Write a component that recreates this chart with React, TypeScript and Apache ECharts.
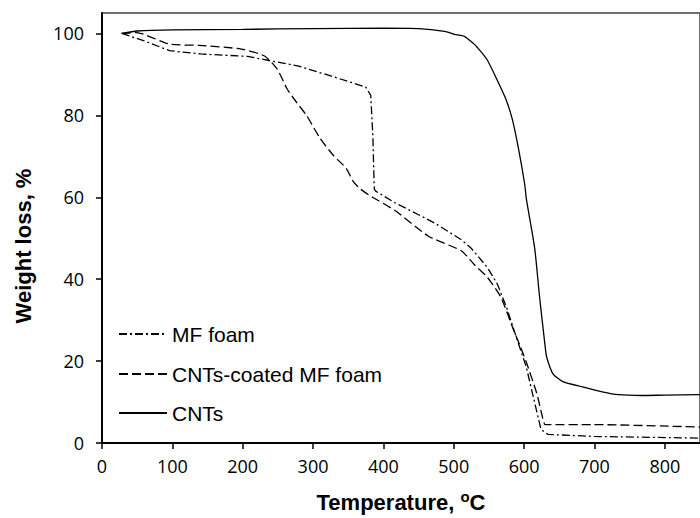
import React, { useEffect, useRef } from "react";
import * as echarts from "echarts";

// Temperature (°C) / weight (%) readings for each curve
const mfTemp = [28, 60, 96, 140, 207, 240, 278, 324, 375, 382, 385, 387, 389, 417, 431, 473, 511, 524, 534, 548, 562, 575, 589, 603, 624, 634, 700, 850];
const mfWeight = [100, 98.2, 95.8, 95.0, 94.4, 93.3, 92.1, 89.7, 86.9, 84.9, 75.0, 62.0, 61.5, 58.6, 57.4, 53.7, 49.6, 47.7, 45.7, 42.8, 38.8, 33.1, 25.8, 18.6, 3.3, 2.1, 1.6, 1.2];

const coatedTemp = [28, 49, 96, 138, 198, 231, 249, 263, 273, 291, 310, 329, 347, 357, 366, 380, 417, 464, 511, 529, 548, 567, 585, 595, 603, 618, 627, 630, 697, 850];
const coatedWeight = [100, 100.2, 97.4, 97.1, 96.2, 94.5, 91.3, 86.5, 84.0, 79.9, 74.4, 70.2, 67.1, 63.9, 62.2, 60.5, 56.7, 50.5, 46.9, 43.6, 40.4, 35.6, 27.6, 23.4, 19.8, 12.1, 5.7, 4.5, 4.5, 3.9];

const cntTemp = [28, 50, 100, 200, 300, 400, 450, 487, 501, 515, 529, 533, 547, 561, 574, 583, 592, 601, 603, 615, 622, 630, 632, 641, 655, 683, 711, 734, 767, 800, 850];
const cntWeight = [100, 100.6, 100.9, 101.0, 101.2, 101.3, 101.2, 100.5, 99.8, 99.3, 97.4, 96.7, 93.7, 88.9, 84.0, 79.2, 71.9, 63.0, 59.8, 47.6, 35.6, 23.4, 21.0, 16.9, 15.0, 13.7, 12.5, 11.8, 11.6, 11.7, 11.8];

const seriesNames = ["MF foam", "CNTs-coated MF foam", "CNTs"];
const xTicks = [0, 100, 200, 300, 400, 500, 600, 700, 800];
const yTicks = [0, 20, 40, 60, 80, 100];

const zip = (xs: number[], ys: number[]) => xs.map((x, i) => [x, ys[i]]);

const tickFont = { fontFamily: "Open Sans", fontSize: 18, color: "#000" };
const legendText = { fontFamily: "Liberation Sans", fontSize: 21, color: "#000", lineHeight: 22 };

function makeLegend(name: string, top: number) {
  return {
    data: [name],
    left: 118,
    top,
    orient: "vertical",
    padding: 0,
    itemWidth: 48,
    itemHeight: 14,
    selectedMode: false,
    itemStyle: { opacity: 0, borderWidth: 0 },
    textStyle: legendText,
  };
}

export default function App() {
  const ref = useRef<HTMLDivElement>(null);
  useEffect(() => {
    document.body.style.margin = "0";
    const chart = echarts.init(ref.current!, null, { renderer: "svg" });
    chart.setOption({
      animation: false,
      backgroundColor: "#fff",
      grid: {
        left: 102,
        top: 13,
        width: 608,
        height: 434,
        show: true,
        borderColor: "#404040",
        borderWidth: 1.5,
        backgroundColor: "transparent",
      },
      legend: [
        makeLegend(seriesNames[0], 323),
        makeLegend(seriesNames[1], 363),
        makeLegend(seriesNames[2], 402),
      ],
      xAxis: {
        type: "value",
        min: 0,
        max: 850,
        interval: 100,
        axisLine: { show: true, lineStyle: { color: "#000", width: 2 } },
        axisTick: { show: true, length: 6, customValues: xTicks, lineStyle: { color: "#000", width: 1.5 } },
        axisLabel: { customValues: xTicks, margin: 14, ...tickFont },
        splitLine: { show: false },
        name: "{n|Temperature, }{s|o}{n|C}",
        nameLocation: "middle",
        nameGap: 46,
        nameTextStyle: {
          rich: {
            n: { fontFamily: "Liberation Sans", fontWeight: "bold", fontSize: 22, color: "#000", lineHeight: 24, verticalAlign: "bottom" },
            s: { fontFamily: "Liberation Sans", fontWeight: "bold", fontSize: 15, color: "#000", lineHeight: 24, verticalAlign: "top", padding: [0, 0, 6, 0] },
          },
        },
      },
      yAxis: {
        type: "value",
        min: 0,
        max: 105,
        interval: 20,
        axisLine: { show: true, lineStyle: { color: "#000", width: 2 } },
        axisTick: { show: true, length: 6, customValues: yTicks, lineStyle: { color: "#000", width: 1.5 } },
        axisLabel: { customValues: yTicks, margin: 18, ...tickFont },
        splitLine: { show: false },
      },
      graphic: [
        {
          type: "text",
          x: 23,
          y: 246,
          rotation: Math.PI / 2,
          style: {
            text: "Weight loss, %",
            fontFamily: "Liberation Sans",
            fontWeight: "bold",
            fontSize: 22,
            fill: "#000",
            align: "center",
            verticalAlign: "middle",
          },
        },
      ],
      series: [
        {
          name: seriesNames[0],
          type: "line",
          data: zip(mfTemp, mfWeight),
          symbol: "none",
          showSymbol: false,
          color: "#000",
          lineStyle: { color: "#000", width: 1.3, type: [8, 3, 2, 3] },
        },
        {
          name: seriesNames[1],
          type: "line",
          data: zip(coatedTemp, coatedWeight),
          symbol: "none",
          showSymbol: false,
          smooth: 0.2,
          color: "#000",
          lineStyle: { color: "#000", width: 1.3, type: [9, 4] },
        },
        {
          name: seriesNames[2],
          type: "line",
          data: zip(cntTemp, cntWeight),
          symbol: "none",
          showSymbol: false,
          smooth: 0.2,
          color: "#000",
          lineStyle: { color: "#000", width: 1.3, type: "solid" },
        },
      ],
    });
    return () => chart.dispose();
  }, []);
  return <div ref={ref} style={{ position: "fixed", left: 0, top: 0, width: 700, height: 518 }} />;
}
